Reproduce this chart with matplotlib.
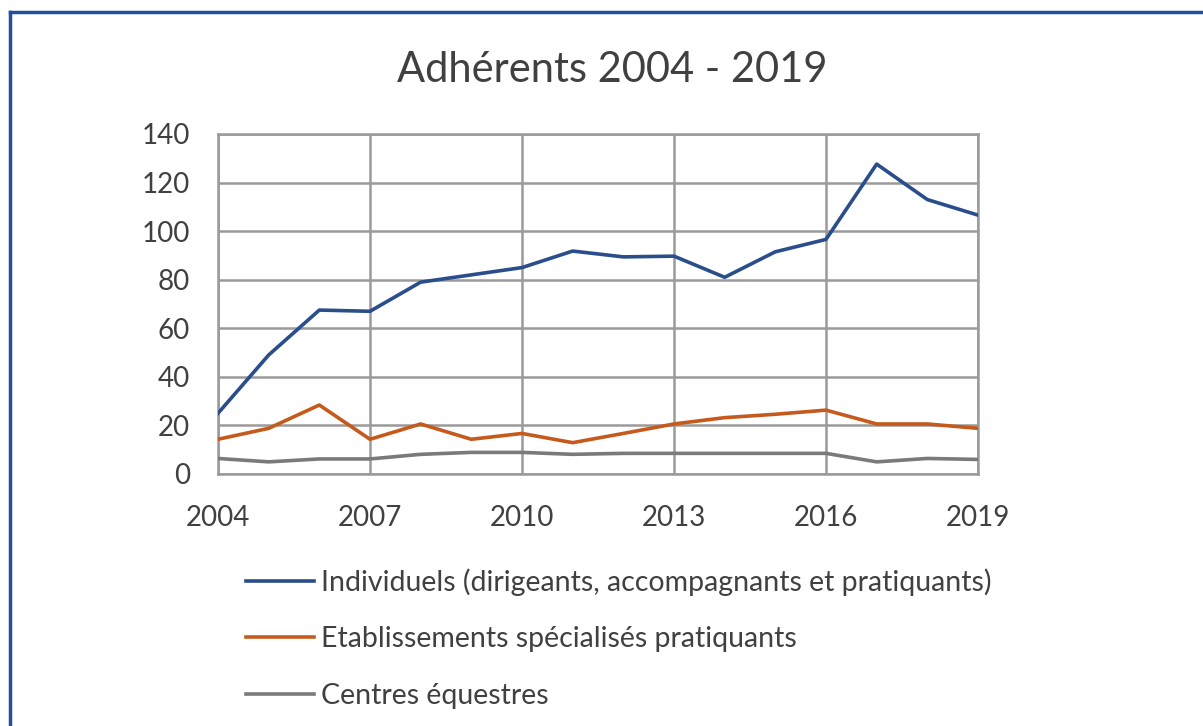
import matplotlib.pyplot as plt
from matplotlib.lines import Line2D

plt.rcParams['font.family'] = ['Lato', 'DejaVu Sans']

years = list(range(2004, 2020))
individuels = [25, 49, 67.5, 67, 79, 82, 85, 91.8, 89.4, 89.7, 81, 91.5, 96.6, 127.6, 113, 106.6]
etablissements = [14.3, 18.8, 28.4, 14.3, 20.6, 14.3, 16.7, 12.9, 16.7, 20.6, 23.2, 24.6, 26.3, 20.6, 20.6, 18.8]
centres = [6.4, 5, 6.2, 6.2, 8.1, 8.9, 8.9, 8.1, 8.5, 8.5, 8.5, 8.5, 8.5, 5, 6.4, 6]

labels = [
    "Individuels (dirigeants, accompagnants et pratiquants)",
    "Etablissements spécialisés pratiquants",
    "Centres équestres",
]
colors = ["#2a4d8c", "#c55a1c", "#7a7a7a"]
xticks = [2004, 2007, 2010, 2013, 2016, 2019]

fig = plt.figure(figsize=(12.03, 7.26), dpi=100)
ax = fig.add_axes([218 / 1203, 1 - 474 / 726, 760 / 1203, 340 / 726])

for series, color in zip([individuels, etablissements, centres], colors):
    ax.plot(years, series, color=color, lw=2.6, solid_joinstyle="round", zorder=3)

ax.set_xlim(2004, 2019)
ax.set_ylim(0, 140)
ax.set_xticks(xticks)
ax.set_yticks(range(0, 141, 20))
ax.grid(True, color="#9a9a9a", lw=1.8)
for s in ax.spines.values():
    s.set_color("#9a9a9a")
    s.set_linewidth(1.8)
ax.tick_params(length=0, labelsize=20, colors="#404040")
ax.tick_params(axis="x", pad=22)
ax.tick_params(axis="y", pad=20)

fig.text(0.509, 1 - 70 / 726, "Adhérents 2004 - 2019", ha="center", va="center",
         fontsize=30, color="#404040")

handles = [Line2D([], [], color=c, lw=2.6) for c in colors]
leg = fig.legend(handles, labels, loc="upper left", bbox_to_anchor=(246 / 1203, 1 - 568 / 726),
                 frameon=False, fontsize=20.5, labelspacing=1.08, handlelength=2.4,
                 handletextpad=0.25, borderaxespad=0, borderpad=0)
for t in leg.get_texts():
    t.set_color("#404040")

# frame (top and left only, as in the crop)
fig.add_artist(Line2D([10 / 1203, 10 / 1203], [0, 1 - 12 / 726], color="#1f4e9c", lw=2.5,
                      transform=fig.transFigure))
fig.add_artist(Line2D([10 / 1203, 1], [1 - 12 / 726, 1 - 12 / 726], color="#1f4e9c", lw=2.5,
                      transform=fig.transFigure))

fig.savefig("out.png", dpi=100)
